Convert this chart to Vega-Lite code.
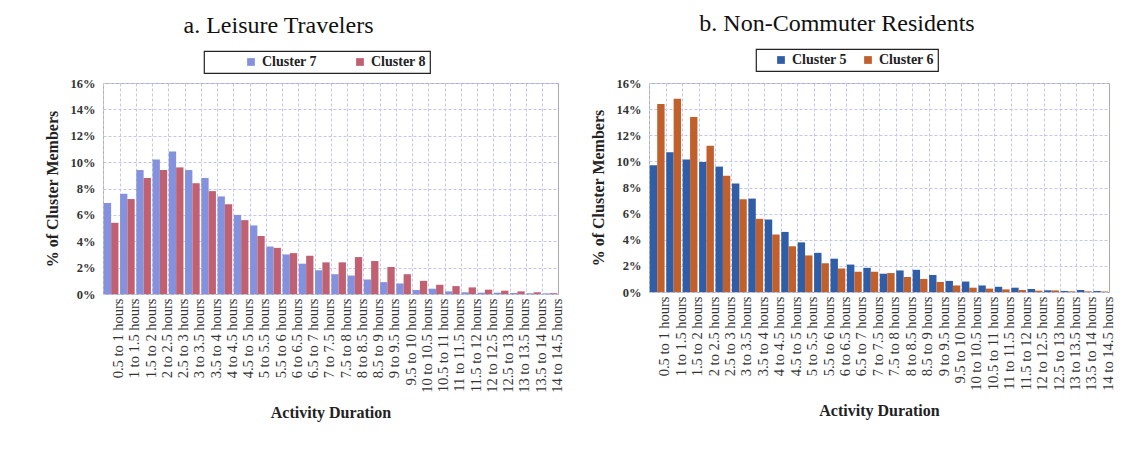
{
  "$schema": "https://vega.github.io/schema/vega-lite/v6.json",
  "background": "white",
  "padding": {"left": 43, "top": 11, "right": 18, "bottom": 10},
  "datasets": {
    "a": [
      {"d":"0.5 to 1 hours","c":"Cluster 7","v":6.9},{"d":"0.5 to 1 hours","c":"Cluster 8","v":5.4},
      {"d":"1 to 1.5 hours","c":"Cluster 7","v":7.6},{"d":"1 to 1.5 hours","c":"Cluster 8","v":7.2},
      {"d":"1.5 to 2 hours","c":"Cluster 7","v":9.4},{"d":"1.5 to 2 hours","c":"Cluster 8","v":8.8},
      {"d":"2 to 2.5 hours","c":"Cluster 7","v":10.2},{"d":"2 to 2.5 hours","c":"Cluster 8","v":9.4},
      {"d":"2.5 to 3 hours","c":"Cluster 7","v":10.8},{"d":"2.5 to 3 hours","c":"Cluster 8","v":9.6},
      {"d":"3 to 3.5 hours","c":"Cluster 7","v":9.4},{"d":"3 to 3.5 hours","c":"Cluster 8","v":8.4},
      {"d":"3.5 to 4 hours","c":"Cluster 7","v":8.8},{"d":"3.5 to 4 hours","c":"Cluster 8","v":7.8},
      {"d":"4 to 4.5 hours","c":"Cluster 7","v":7.4},{"d":"4 to 4.5 hours","c":"Cluster 8","v":6.8},
      {"d":"4.5 to 5 hours","c":"Cluster 7","v":6.0},{"d":"4.5 to 5 hours","c":"Cluster 8","v":5.6},
      {"d":"5 to 5.5 hours","c":"Cluster 7","v":5.2},{"d":"5 to 5.5 hours","c":"Cluster 8","v":4.4},
      {"d":"5.5 to 6 hours","c":"Cluster 7","v":3.6},{"d":"5.5 to 6 hours","c":"Cluster 8","v":3.5},
      {"d":"6 to 6.5 hours","c":"Cluster 7","v":3.0},{"d":"6 to 6.5 hours","c":"Cluster 8","v":3.1},
      {"d":"6.5 to 7 hours","c":"Cluster 7","v":2.3},{"d":"6.5 to 7 hours","c":"Cluster 8","v":2.9},
      {"d":"7 to 7.5 hours","c":"Cluster 7","v":1.8},{"d":"7 to 7.5 hours","c":"Cluster 8","v":2.4},
      {"d":"7.5 to 8 hours","c":"Cluster 7","v":1.5},{"d":"7.5 to 8 hours","c":"Cluster 8","v":2.4},
      {"d":"8 to 8.5 hours","c":"Cluster 7","v":1.4},{"d":"8 to 8.5 hours","c":"Cluster 8","v":2.8},
      {"d":"8.5 to 9 hours","c":"Cluster 7","v":1.1},{"d":"8.5 to 9 hours","c":"Cluster 8","v":2.5},
      {"d":"9 to 9.5 hours","c":"Cluster 7","v":0.9},{"d":"9 to 9.5 hours","c":"Cluster 8","v":2.05},
      {"d":"9.5 to 10 hours","c":"Cluster 7","v":0.8},{"d":"9.5 to 10 hours","c":"Cluster 8","v":1.5},
      {"d":"10 to 10.5 hours","c":"Cluster 7","v":0.3},{"d":"10 to 10.5 hours","c":"Cluster 8","v":1.0},
      {"d":"10.5 to 11 hours","c":"Cluster 7","v":0.4},{"d":"10.5 to 11 hours","c":"Cluster 8","v":0.7},
      {"d":"11 to 11.5 hours","c":"Cluster 7","v":0.2},{"d":"11 to 11.5 hours","c":"Cluster 8","v":0.6},
      {"d":"11.5 to 12 hours","c":"Cluster 7","v":0.13},{"d":"11.5 to 12 hours","c":"Cluster 8","v":0.5},
      {"d":"12 to 12.5 hours","c":"Cluster 7","v":0.1},{"d":"12 to 12.5 hours","c":"Cluster 8","v":0.33},
      {"d":"12.5 to 13 hours","c":"Cluster 7","v":0.1},{"d":"12.5 to 13 hours","c":"Cluster 8","v":0.25},
      {"d":"13 to 13.5 hours","c":"Cluster 7","v":0.08},{"d":"13 to 13.5 hours","c":"Cluster 8","v":0.2},
      {"d":"13.5 to 14 hours","c":"Cluster 7","v":0.06},{"d":"13.5 to 14 hours","c":"Cluster 8","v":0.13},
      {"d":"14 to 14.5 hours","c":"Cluster 7","v":0.05},{"d":"14 to 14.5 hours","c":"Cluster 8","v":0.06}
    ],
    "b": [
      {"d":"0.5 to 1 hours","c":"Cluster 5","v":9.7},{"d":"0.5 to 1 hours","c":"Cluster 6","v":14.4},
      {"d":"1 to 1.5 hours","c":"Cluster 5","v":10.7},{"d":"1 to 1.5 hours","c":"Cluster 6","v":14.8},
      {"d":"1.5 to 2 hours","c":"Cluster 5","v":10.15},{"d":"1.5 to 2 hours","c":"Cluster 6","v":13.4},
      {"d":"2 to 2.5 hours","c":"Cluster 5","v":9.95},{"d":"2 to 2.5 hours","c":"Cluster 6","v":11.2},
      {"d":"2.5 to 3 hours","c":"Cluster 5","v":9.6},{"d":"2.5 to 3 hours","c":"Cluster 6","v":8.9},
      {"d":"3 to 3.5 hours","c":"Cluster 5","v":8.3},{"d":"3 to 3.5 hours","c":"Cluster 6","v":7.1},
      {"d":"3.5 to 4 hours","c":"Cluster 5","v":7.15},{"d":"3.5 to 4 hours","c":"Cluster 6","v":5.6},
      {"d":"4 to 4.5 hours","c":"Cluster 5","v":5.55},{"d":"4 to 4.5 hours","c":"Cluster 6","v":4.4},
      {"d":"4.5 to 5 hours","c":"Cluster 5","v":4.6},{"d":"4.5 to 5 hours","c":"Cluster 6","v":3.5},
      {"d":"5 to 5.5 hours","c":"Cluster 5","v":3.8},{"d":"5 to 5.5 hours","c":"Cluster 6","v":2.8},
      {"d":"5.5 to 6 hours","c":"Cluster 5","v":3.0},{"d":"5.5 to 6 hours","c":"Cluster 6","v":2.2},
      {"d":"6 to 6.5 hours","c":"Cluster 5","v":2.55},{"d":"6 to 6.5 hours","c":"Cluster 6","v":1.8},
      {"d":"6.5 to 7 hours","c":"Cluster 5","v":2.1},{"d":"6.5 to 7 hours","c":"Cluster 6","v":1.55},
      {"d":"7 to 7.5 hours","c":"Cluster 5","v":1.85},{"d":"7 to 7.5 hours","c":"Cluster 6","v":1.55},
      {"d":"7.5 to 8 hours","c":"Cluster 5","v":1.4},{"d":"7.5 to 8 hours","c":"Cluster 6","v":1.45},
      {"d":"8 to 8.5 hours","c":"Cluster 5","v":1.65},{"d":"8 to 8.5 hours","c":"Cluster 6","v":1.15},
      {"d":"8.5 to 9 hours","c":"Cluster 5","v":1.7},{"d":"8.5 to 9 hours","c":"Cluster 6","v":1.0},
      {"d":"9 to 9.5 hours","c":"Cluster 5","v":1.3},{"d":"9 to 9.5 hours","c":"Cluster 6","v":0.77},
      {"d":"9.5 to 10 hours","c":"Cluster 5","v":0.85},{"d":"9.5 to 10 hours","c":"Cluster 6","v":0.5},
      {"d":"10 to 10.5 hours","c":"Cluster 5","v":0.8},{"d":"10 to 10.5 hours","c":"Cluster 6","v":0.33},
      {"d":"10.5 to 11 hours","c":"Cluster 5","v":0.5},{"d":"10.5 to 11 hours","c":"Cluster 6","v":0.26},
      {"d":"11 to 11.5 hours","c":"Cluster 5","v":0.4},{"d":"11 to 11.5 hours","c":"Cluster 6","v":0.2},
      {"d":"11.5 to 12 hours","c":"Cluster 5","v":0.33},{"d":"11.5 to 12 hours","c":"Cluster 6","v":0.15},
      {"d":"12 to 12.5 hours","c":"Cluster 5","v":0.23},{"d":"12 to 12.5 hours","c":"Cluster 6","v":0.1},
      {"d":"12.5 to 13 hours","c":"Cluster 5","v":0.13},{"d":"12.5 to 13 hours","c":"Cluster 6","v":0.12},
      {"d":"13 to 13.5 hours","c":"Cluster 5","v":0.08},{"d":"13 to 13.5 hours","c":"Cluster 6","v":0.05},
      {"d":"13.5 to 14 hours","c":"Cluster 5","v":0.15},{"d":"13.5 to 14 hours","c":"Cluster 6","v":0.05},
      {"d":"14 to 14.5 hours","c":"Cluster 5","v":0.08},{"d":"14 to 14.5 hours","c":"Cluster 6","v":0.04}
    ]
  },
  "spacing": 24,
  "hconcat": [
    {
      "width": 455,
      "height": 211,
      "title": {"text": "a. Leisure Travelers", "dx": -52},
      "data": {"name": "a"},
      "mark": {"type": "bar"},
      "encoding": {
        "x": {
          "field": "d", "type": "nominal", "sort": null,
          "scale": {"paddingInner": 0.1, "paddingOuter": 0.05},
          "axis": {"title": "Activity Duration"}
        },
        "xOffset": {"field": "c", "type": "nominal", "sort": null},
        "y": {
          "field": "v", "type": "quantitative",
          "scale": {"domain": [0, 16]},
          "axis": {"title": "% of Cluster Members", "values": [0, 2, 4, 6, 8, 10, 12, 14, 16], "labelExpr": "datum.value + '%'"}
        },
        "color": {
          "field": "c", "type": "nominal", "sort": null,
          "scale": {"range": ["#8492de", "#c06070"]},
          "legend": {"orient": "none", "legendX": 101, "legendY": -32, "symbolOffset": 36}
        }
      }
    },
    {
      "width": 460,
      "height": 209,
      "title": {"text": "b. Non-Commuter Residents", "dx": -42},
      "data": {"name": "b"},
      "mark": {"type": "bar"},
      "encoding": {
        "x": {
          "field": "d", "type": "nominal", "sort": null,
          "scale": {"paddingInner": 0.1, "paddingOuter": 0.05},
          "axis": {"title": "Activity Duration"}
        },
        "xOffset": {"field": "c", "type": "nominal", "sort": null},
        "y": {
          "field": "v", "type": "quantitative",
          "scale": {"domain": [0, 16]},
          "axis": {"title": "% of Cluster Members", "values": [0, 2, 4, 6, 8, 10, 12, 14, 16], "labelExpr": "datum.value + '%'"}
        },
        "color": {
          "field": "c", "type": "nominal", "sort": null,
          "scale": {"range": ["#2f5da6", "#c2602c"]},
          "legend": {"orient": "none", "legendX": 107, "legendY": -34, "symbolOffset": 14}
        }
      }
    }
  ],
  "resolve": {
    "scale": {"color": "independent", "x": "independent", "y": "independent", "xOffset": "independent"},
    "legend": {"color": "independent"}
  },
  "config": {
    "font": "Liberation Serif",
    "view": {"stroke": "#a8a8b8", "strokeWidth": 1},
    "scale": {"offsetBandPaddingInner": 0},
    "title": {"font": "Liberation Serif", "fontSize": 24, "fontWeight": "normal", "color": "#111", "anchor": "middle", "offset": 12},
    "axis": {
      "grid": true, "gridColor": "#c4c6ec", "gridDash": [3, 2], "gridWidth": 1,
      "ticks": false, "domain": false,
      "labelFont": "Liberation Serif", "labelColor": "#333", "labelFontSize": 12,
      "titleFont": "Liberation Serif", "titleFontSize": 16, "titleFontWeight": "bold", "titleColor": "#222"
    },
    "axisX": {"labelAngle": 270, "labelPadding": 4, "bandPosition": 0, "labelOffset": 8, "titlePadding": 12, "labelFontSize": 14.5},
    "axisY": {"labelPadding": 8, "titlePadding": 10, "labelFontWeight": "bold", "labelFontSize": 12.5},
    "legend": {
      "direction": "horizontal", "title": null,
      "strokeColor": "#222", "strokeWidth": 1.2, "padding": 4,
      "symbolType": "square", "symbolSize": 60, "symbolStrokeWidth": 0,
      "labelFont": "Liberation Serif", "labelFontSize": 14, "labelFontWeight": "bold", "labelColor": "#222",
      "columnPadding": 0
    }
  }
}
